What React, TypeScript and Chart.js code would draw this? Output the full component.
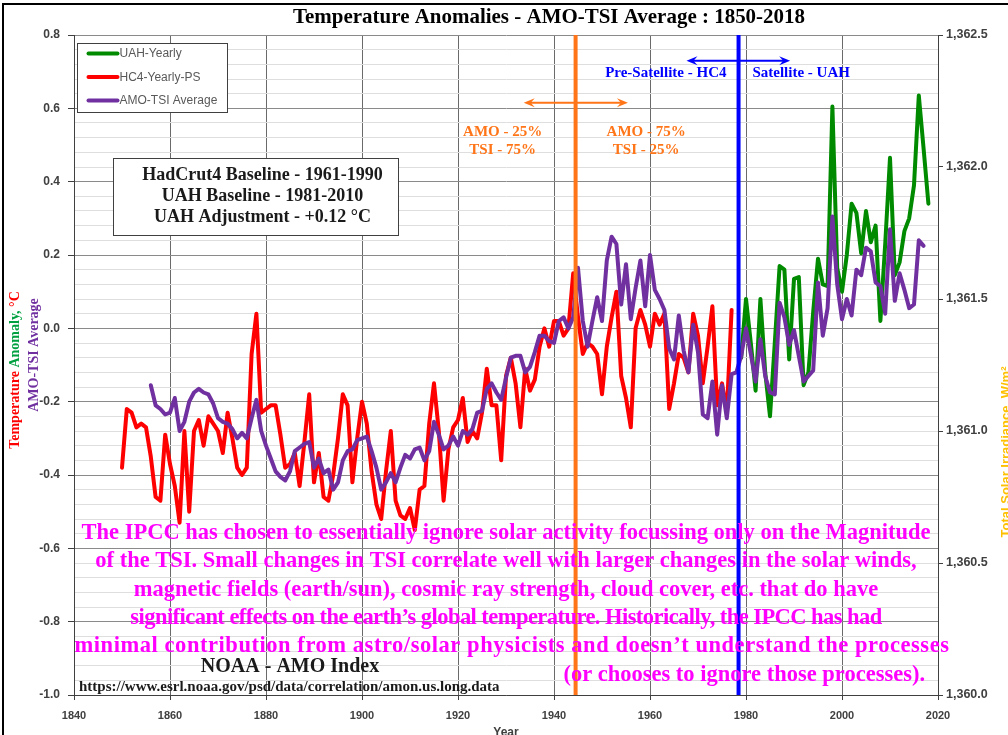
import React, { useEffect, useRef } from 'react';
import { Chart, registerables } from 'chart.js';

Chart.register(...registerables);

// ---------------- data ----------------
const chartTitle = 'Temperature Anomalies - AMO-TSI Average : 1850-2018';

const xTickYears = [1840, 1860, 1880, 1900, 1920, 1940, 1960, 1980, 2000, 2020];
const tempMajorTicks = [0.8, 0.6, 0.4, 0.2, 0.0, -0.2, -0.4, -0.6, -0.8, -1.0];
const tempMinorStep = 0.04;
const tsiTicks = [1360.0, 1360.5, 1361.0, 1361.5, 1362.0, 1362.5];

const hc4StartYear = 1850;
const hc4Values = [
  -0.38, -0.22, -0.23, -0.27, -0.26, -0.27, -0.35, -0.46, -0.47, -0.29,
  -0.37, -0.43, -0.53, -0.28, -0.50, -0.28, -0.25, -0.32, -0.24, -0.26,
  -0.28, -0.34, -0.23, -0.30, -0.38, -0.40, -0.38, -0.07, 0.04, -0.23,
  -0.22, -0.21, -0.21, -0.29, -0.38, -0.37, -0.34, -0.43, -0.31, -0.18,
  -0.42, -0.34, -0.46, -0.47, -0.40, -0.30, -0.18, -0.21, -0.42, -0.30,
  -0.20, -0.26, -0.39, -0.48, -0.52, -0.39, -0.28, -0.47, -0.51, -0.52,
  -0.49, -0.55, -0.44, -0.43, -0.26, -0.15, -0.28, -0.47, -0.33, -0.27,
  -0.25, -0.19, -0.31, -0.28, -0.30, -0.23, -0.11, -0.21, -0.21, -0.36,
  -0.13, -0.08, -0.15, -0.27, -0.11, -0.17, -0.14, -0.05, 0.00, -0.05,
  0.02, 0.02, -0.02, 0.00, 0.15, 0.03, -0.07, -0.04, -0.05, -0.07,
  -0.18, -0.05, 0.03, 0.10, -0.13, -0.19, -0.27, 0.00, 0.05, 0.01,
  -0.05, 0.04, 0.01, 0.04, -0.22, -0.15, -0.07, -0.08, -0.12, 0.04,
  -0.02, -0.15, -0.05, 0.06, -0.21, -0.15, -0.23, 0.05,
];

const uahStartYear = 1979;
const uahValues = [
  -0.08, 0.08, -0.04, -0.17, 0.08, -0.12, -0.24, -0.04, 0.17, 0.16,
  -0.085, 0.135, 0.14, -0.155, -0.12, 0.045, 0.19, 0.12, 0.115, 0.605,
  0.165, 0.10, 0.20, 0.34, 0.315, 0.205, 0.32, 0.235, 0.28, 0.02,
  0.23, 0.465, 0.145, 0.18, 0.265, 0.30, 0.39, 0.635, 0.49, 0.34,
];

const amoTsiStartYear = 1856;
const amoTsiValues = [
  -0.155, -0.21, -0.22, -0.235,
  -0.23, -0.19, -0.28, -0.255, -0.20, -0.175, -0.165, -0.175, -0.18, -0.205,
  -0.245, -0.255, -0.26, -0.275, -0.30, -0.285, -0.30, -0.245, -0.195, -0.28,
  -0.32, -0.355, -0.39, -0.405, -0.415, -0.39, -0.335, -0.325, -0.315, -0.31,
  -0.38, -0.355, -0.395, -0.385, -0.44, -0.42, -0.36, -0.335, -0.33, -0.305,
  -0.30, -0.295, -0.335, -0.38, -0.44, -0.42, -0.395, -0.42, -0.38, -0.345,
  -0.355, -0.33, -0.325, -0.36, -0.335, -0.255, -0.29, -0.33, -0.32, -0.295,
  -0.32, -0.28, -0.29, -0.275, -0.23, -0.225, -0.165, -0.15, -0.175, -0.195,
  -0.135, -0.08, -0.075, -0.075, -0.12, -0.105, -0.065, -0.02, -0.02, -0.035,
  -0.04, 0.02, 0.03, 0.00, 0.03, 0.165, 0.02, -0.05, 0.02, 0.085,
  0.02, 0.185, 0.25, 0.23, 0.065, 0.175, 0.025, 0.11, 0.185, 0.06,
  0.20, 0.105, 0.08, 0.05, -0.055, -0.085, 0.035, -0.06, -0.12, 0.01,
  -0.065, -0.235, -0.245, -0.145, -0.29, -0.155, -0.245, -0.125, -0.12, -0.075,
  0.00, -0.07, -0.145, -0.03, -0.13, -0.175, -0.18, 0.07, 0.03, -0.045,
  -0.005, -0.075, -0.145, -0.13, -0.115, 0.125, -0.02, 0.055, 0.305, 0.12,
  0.025, 0.08, 0.035, 0.16, 0.145, 0.22, 0.21, 0.125, 0.115, 0.04,
  0.27, 0.075, 0.15, 0.105, 0.055, 0.065, 0.24, 0.225,
];

const seriesLabels = ['UAH-Yearly', 'HC4-Yearly-PS', 'AMO-TSI Average'];

const orangeLineYear = 1944.5;
const blueLineYear = 1978.45;

const baselineLines = [
  'HadCrut4 Baseline - 1961-1990',
  'UAH Baseline - 1981-2010',
  'UAH Adjustment - +0.12 \u00B0C',
];

const paragraphLines = [
  'The IPCC has chosen to essentially ignore solar activity focussing only on the Magnitude',
  'of the TSI. Small changes in TSI correlate well with larger changes in the solar winds,',
  'magnetic fields (earth/sun), cosmic ray strength, cloud cover, etc. that do have',
  'significant effects on the earth\u2019s global temperature. Historically, the IPCC has had',
  'minimal contribution from astro/solar physicists and doesn\u2019t understand the processes',
];
const paragraphSpacing = ['0px', '0px', '0px', '-0.55px', '0.55px'];
const paragraphLastLine = '(or chooses to ignore those processes).';

// ---------------- styles ----------------
const SERIF = '"Liberation Serif", "DejaVu Serif", serif';
const SANS = '"Liberation Sans", Arial, sans-serif';
const RED = '#FF0000';
const GREEN = '#008A00';
const PURPLE = '#7030A0';
const ORANGE = '#FF7518';
const BLUE = '#0000FF';
const MAGENTA = '#FF00FF';
const GOLD = '#FFC000';

const isMajor = (v: number) => Math.abs(v * 5 - Math.round(v * 5)) < 1e-6;

function fmtThousands(v: number) {
  const [i, d] = v.toFixed(1).split('.');
  return i.replace(/\B(?=(\d{3})+$)/g, ',') + '.' + d;
}

function toPoints(start: number, values: number[]) {
  return values.map((v, i) => ({ x: start + i, y: v }));
}

function drawArrow(ctx: CanvasRenderingContext2D, x1: number, x2: number, y: number, color: string) {
  ctx.save();
  ctx.strokeStyle = color;
  ctx.fillStyle = color;
  ctx.lineWidth = 2;
  ctx.beginPath();
  ctx.moveTo(x1 + 4, y);
  ctx.lineTo(x2 - 4, y);
  ctx.stroke();
  const head = (tip: number, dir: number) => {
    ctx.beginPath();
    ctx.moveTo(tip, y);
    ctx.lineTo(tip - dir * 11, y - 4.5);
    ctx.lineTo(tip - dir * 7, y);
    ctx.lineTo(tip - dir * 11, y + 4.5);
    ctx.closePath();
    ctx.fill();
  };
  head(x1, -1);
  head(x2, 1);
  ctx.restore();
}

function drawRotated(ctx: CanvasRenderingContext2D, cx: number, cy: number, font: string,
  segments: { text: string; color: string }[]) {
  ctx.save();
  ctx.font = font;
  const widths = segments.map((s) => ctx.measureText(s.text).width);
  const total = widths.reduce((a, b) => a + b, 0);
  ctx.translate(cx, cy);
  ctx.rotate(-Math.PI / 2);
  ctx.textBaseline = 'middle';
  ctx.textAlign = 'left';
  let pos = -total / 2;
  segments.forEach((s, i) => {
    ctx.fillStyle = s.color;
    ctx.fillText(s.text, pos, 0);
    pos += widths[i];
  });
  ctx.restore();
}

const decorPlugin = {
  id: 'decor',
  beforeDraw(chart: any) {
    const { ctx, width, height } = chart;
    ctx.save();
    ctx.fillStyle = '#FFFFFF';
    ctx.fillRect(0, 0, width, height);
    ctx.restore();
  },
  afterDatasetsDraw(chart: any) {
    const { ctx, chartArea } = chart;
    const xs = chart.scales.x;
    const ys = chart.scales.y;
    const L = chartArea.left;
    const T = chartArea.top;

    // vertical divider lines
    ctx.save();
    ctx.lineWidth = 4;
    ctx.strokeStyle = ORANGE;
    let px = xs.getPixelForValue(orangeLineYear);
    ctx.beginPath();
    ctx.moveTo(px, chartArea.top);
    ctx.lineTo(px, chartArea.bottom);
    ctx.stroke();
    ctx.strokeStyle = BLUE;
    px = xs.getPixelForValue(blueLineYear);
    ctx.beginPath();
    ctx.moveTo(px, chartArea.top);
    ctx.lineTo(px, chartArea.bottom);
    ctx.stroke();
    ctx.restore();

    // arrows
    drawArrow(ctx, xs.getPixelForValue(1933.7), xs.getPixelForValue(1955.4), ys.getPixelForValue(0.615), ORANGE);
    drawArrow(ctx, xs.getPixelForValue(1967.6), xs.getPixelForValue(1989.2), ys.getPixelForValue(0.73), BLUE);

    // annotation texts
    ctx.save();
    ctx.textAlign = 'center';
    ctx.textBaseline = 'middle';
    ctx.font = `bold 15px ${SERIF}`;
    ctx.fillStyle = ORANGE;
    ctx.fillText('AMO - 25%', xs.getPixelForValue(1929.3), ys.getPixelForValue(0.535));
    ctx.fillText('TSI - 75%', xs.getPixelForValue(1929.3), ys.getPixelForValue(0.485));
    ctx.fillText('AMO - 75%', xs.getPixelForValue(1959.2), ys.getPixelForValue(0.535));
    ctx.fillText('TSI - 25%', xs.getPixelForValue(1959.2), ys.getPixelForValue(0.485));
    ctx.fillStyle = BLUE;
    ctx.fillText('Pre-Satellite - HC4', xs.getPixelForValue(1963.3), ys.getPixelForValue(0.697));
    ctx.fillText('Satellite - UAH', xs.getPixelForValue(1991.5), ys.getPixelForValue(0.697));
    ctx.restore();

    // legend
    ctx.save();
    const lx = L + 3.5, ly = T + 8.5, lw = 150, lh = 69;
    ctx.fillStyle = '#FFFFFF';
    ctx.fillRect(lx, ly, lw, lh);
    ctx.strokeStyle = '#404040';
    ctx.lineWidth = 1;
    ctx.strokeRect(lx, ly, lw, lh);
    const dsets = chart.data.datasets;
    ctx.font = `12px ${SANS}`;
    ctx.textBaseline = 'middle';
    ctx.textAlign = 'left';
    dsets.forEach((ds: any, i: number) => {
      const yy = ly + 10 + i * 23.5;
      ctx.strokeStyle = ds.borderColor;
      ctx.lineWidth = 4;
      ctx.lineCap = 'round';
      ctx.beginPath();
      ctx.moveTo(lx + 11, yy);
      ctx.lineTo(lx + 40, yy);
      ctx.stroke();
      ctx.fillStyle = '#595959';
      ctx.fillText(ds.label, lx + 42, yy + 0.5);
    });
    ctx.restore();

    // baseline box
    ctx.save();
    const bx = L + 39.5, by = T + 123.5, bw = 285, bh = 77;
    ctx.fillStyle = '#FFFFFF';
    ctx.fillRect(bx, by, bw, bh);
    ctx.strokeStyle = '#404040';
    ctx.lineWidth = 1;
    ctx.strokeRect(bx, by, bw, bh);
    ctx.fillStyle = '#1a1a1a';
    ctx.font = `bold 18px ${SERIF}`;
    ctx.textAlign = 'center';
    ctx.textBaseline = 'middle';
    baselineLines.forEach((t, i) => ctx.fillText(t, bx + 149, by + 17 + i * 21));
    ctx.restore();

    // magenta paragraph
    ctx.save();
    ctx.fillStyle = MAGENTA;
    ctx.font = `bold 22.5px ${SERIF}`;
    ctx.textAlign = 'center';
    ctx.textBaseline = 'middle';
    const cx = (chartArea.left + chartArea.right) / 2;
    paragraphLines.forEach((t, i) => {
      (ctx as any).letterSpacing = paragraphSpacing[i];
      ctx.fillText(t, cx + (i === 4 ? 6 : 0), T + 498 + i * 28.4);
    });
    (ctx as any).letterSpacing = '0px';
    ctx.textAlign = 'right';
    ctx.fillText(paragraphLastLine, L + 851, T + 640);
    ctx.restore();

    // NOAA source
    ctx.save();
    ctx.fillStyle = '#1a1a1a';
    ctx.textBaseline = 'middle';
    ctx.textAlign = 'center';
    ctx.font = `bold 20px ${SERIF}`;
    ctx.fillText('NOAA - AMO Index', L + 216, T + 632);
    ctx.textAlign = 'left';
    ctx.font = `bold 15px ${SERIF}`;
    ctx.fillText('https://www.esrl.noaa.gov/psd/data/correlation/amon.us.long.data', L + 5, T + 652);
    ctx.restore();
  },
  afterDraw(chart: any) {
    const { ctx, chartArea, width, height } = chart;
    // title
    ctx.save();
    ctx.fillStyle = '#000000';
    ctx.font = `bold 21px ${SERIF}`;
    ctx.textAlign = 'center';
    ctx.textBaseline = 'middle';
    ctx.fillText(chartTitle, 549, 18, 512);
    ctx.restore();

    // left axis titles
    drawRotated(ctx, 15, 370, `bold 14px ${SERIF}`, [
      { text: 'Temperature ', color: RED },
      { text: 'Anomaly, ', color: '#00A040' },
      { text: '\u00B0C', color: RED },
    ]);
    drawRotated(ctx, 34, 355, `bold 14px ${SERIF}`, [{ text: 'AMO-TSI Average', color: PURPLE }]);

    // right axis title (clipped by edge)
    drawRotated(ctx, 1006, 452, `bold 13px ${SANS}`, [
      { text: 'Total Solar Irradiance, W/m\u00B2', color: GOLD },
    ]);

    // x axis title
    ctx.save();
    ctx.fillStyle = '#404040';
    ctx.font = `bold 12px ${SANS}`;
    ctx.textAlign = 'center';
    ctx.textBaseline = 'top';
    ctx.fillText('Year', (chartArea.left + chartArea.right) / 2, 727);
    ctx.restore();

    // outer frame (top/left)
    ctx.save();
    ctx.strokeStyle = '#000000';
    ctx.lineWidth = 2;
    ctx.beginPath();
    ctx.moveTo(3, height);
    ctx.lineTo(3, 4);
    ctx.lineTo(width, 4);
    ctx.stroke();
    ctx.restore();
  },
};

export default function App() {
  const canvasRef = useRef<HTMLCanvasElement | null>(null);

  useEffect(() => {
    const canvas = canvasRef.current;
    if (!canvas) return;
    const chart = new Chart(canvas, {
      type: 'line',
      data: {
        datasets: [
          {
            label: seriesLabels[0],
            data: toPoints(uahStartYear, uahValues),
            borderColor: GREEN,
            backgroundColor: GREEN,
            order: 1,
          },
          {
            label: seriesLabels[1],
            data: toPoints(hc4StartYear, hc4Values),
            borderColor: RED,
            backgroundColor: RED,
            order: 2,
          },
          {
            label: seriesLabels[2],
            data: toPoints(amoTsiStartYear, amoTsiValues),
            borderColor: PURPLE,
            backgroundColor: PURPLE,
            order: 0,
          },
        ],
      },
      options: {
        responsive: false,
        maintainAspectRatio: false,
        animation: false,
        devicePixelRatio: 1,
        layout: { padding: { top: 35, left: 0, right: 0, bottom: 0 } },
        parsing: false as any,
        elements: {
          point: { radius: 0, hoverRadius: 0 },
          line: { tension: 0, borderWidth: 4, borderCapStyle: 'round', borderJoinStyle: 'round', fill: false },
        },
        plugins: {
          legend: { display: false },
          tooltip: { enabled: false },
          title: { display: false },
        },
        scales: {
          x: {
            type: 'linear',
            min: 1840,
            max: 2020,
            afterBuildTicks: (s: any) => {
              s.ticks = xTickYears.map((v) => ({ value: v }));
            },
            afterFit: (s: any) => {
              s.height = 40;
            },
            ticks: {
              autoSkip: false,
              maxRotation: 0,
              padding: 9,
              color: '#404040',
              font: { family: SANS, size: 11, weight: 'bold' },
              callback: (v: any) => String(v),
            },
            grid: { color: '#6a6a6a', lineWidth: 1, tickLength: 5, tickColor: '#404040' },
            border: { color: '#404040', width: 1 },
          },
          y: {
            type: 'linear',
            position: 'left',
            min: -1.0,
            max: 0.8,
            afterBuildTicks: (s: any) => {
              const out: { value: number }[] = [];
              const lo = tempMajorTicks[tempMajorTicks.length - 1];
              const hi = tempMajorTicks[0];
              const n = Math.round((hi - lo) / tempMinorStep);
              for (let i = 0; i <= n; i++) out.push({ value: Math.round((lo + i * tempMinorStep) * 100) / 100 });
              s.ticks = out;
            },
            afterFit: (s: any) => {
              s.width = 74;
            },
            ticks: {
              autoSkip: false,
              padding: 8,
              color: '#404040',
              font: { family: SANS, size: 12, weight: 'bold' },
              callback: (v: any) => {
                const n = Number(v);
                if (!isMajor(n)) return '';
                return (Math.abs(n) < 1e-9 ? 0 : n).toFixed(1);
              },
            },
            grid: {
              color: (c: any) => (c.tick && isMajor(c.tick.value) ? '#8a8a8a' : '#dedede'),
              lineWidth: 1,
              tickLength: 6,
              tickColor: (c: any) => (c.tick && isMajor(c.tick.value) ? '#404040' : 'rgba(0,0,0,0)'),
            },
            border: { color: '#404040', width: 1 },
          },
          y2: {
            type: 'linear',
            position: 'right',
            min: 1360,
            max: 1362.5,
            afterBuildTicks: (s: any) => {
              s.ticks = tsiTicks.map((v) => ({ value: v }));
            },
            afterFit: (s: any) => {
              s.width = 70;
            },
            ticks: {
              autoSkip: false,
              padding: 3,
              color: '#404040',
              font: { family: SANS, size: 12.5, weight: 'bold' },
              callback: (v: any) => fmtThousands(Number(v)),
            },
            grid: { drawOnChartArea: false, tickLength: 5, tickColor: '#404040' },
            border: { color: '#404040', width: 1 },
          },
        },
      } as any,
      plugins: [decorPlugin],
    });
    return () => {
      chart.destroy();
    };
  }, []);

  return (
    <div style={{ position: 'fixed', left: 0, top: 0, width: 1008, height: 735, background: '#fff' }}>
      <canvas ref={canvasRef} width={1008} height={735} style={{ width: 1008, height: 735, display: 'block' }} />
    </div>
  );
}
